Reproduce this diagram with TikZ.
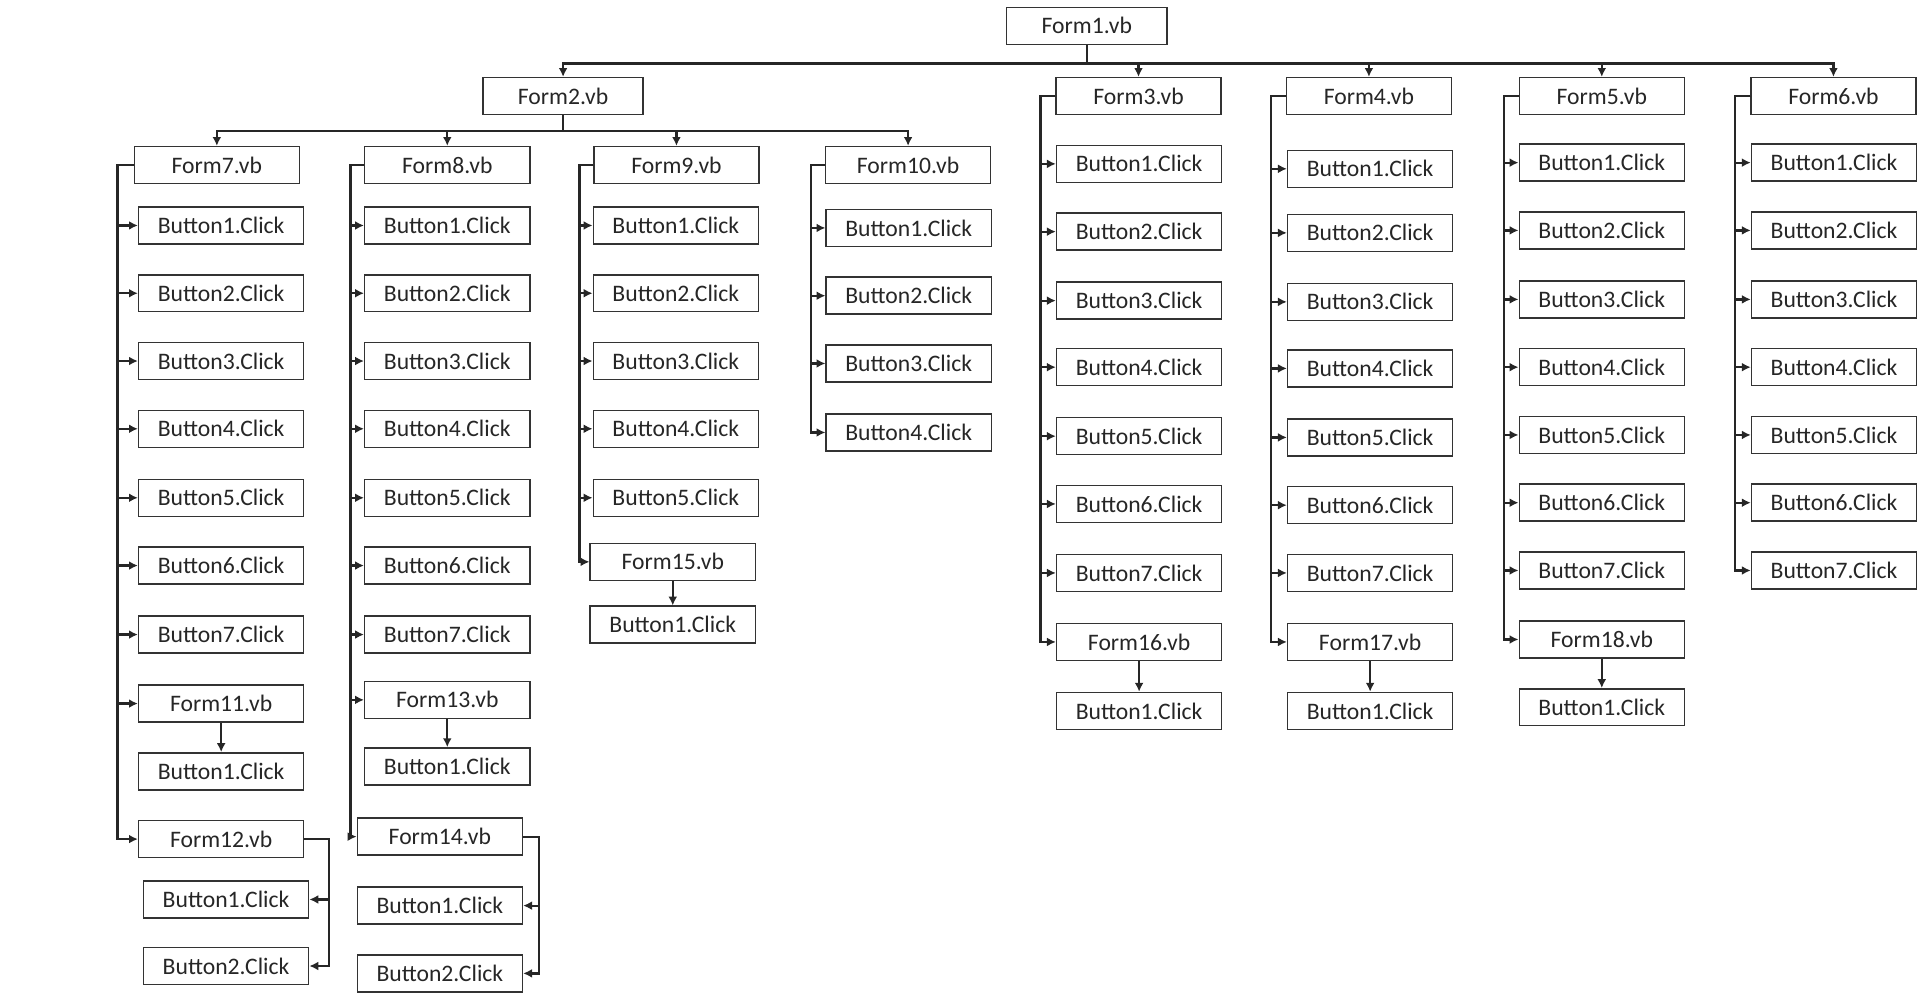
\documentclass[tikz,border=0pt]{standalone}
\usepackage{fontspec}
\setmainfont{Carlito}
\usepackage{tikz}
\usetikzlibrary{positioning,arrows.meta}

\begin{document}
\begin{tikzpicture}[x=0.5pt, y=-0.5pt, >={Latex[length=3.6pt,width=3.6pt]},
    every node/.style={draw=black!80, line width=0.6pt, minimum width=67pt, minimum height=15pt, inner sep=0pt, font=\fontsize{9.6}{11}\selectfont, text=black!85},
    link/.style={->, line width=0.9pt, black!85}]
    \useasboundingbox (0,0) rectangle (1568,812);

    % top levels
    \node[minimum width=65pt] (fone) at (882,21) {Form1.vb};
    \node[minimum width=65pt] (ftwo) at (457,78) {Form2.vb};
    \node (fthr) at (924,78) {Form3.vb};
    \node (ffou) at (1111,78) {Form4.vb};
    \node (ffiv) at (1300,78) {Form5.vb};
    \node (fsix) at (1488,78) {Form6.vb};
    \node (fsev) at (176,134) {Form7.vb};
    \node (feig) at (363,134) {Form8.vb};
    \node (fnin) at (549,134) {Form9.vb};
    \node (ften) at (737,134) {Form10.vb};

    \foreach \f in {ftwo,fthr,ffou,ffiv,fsix}
      \draw[link] (fone.south) -- ++(0,15) -| (\f.north);
    \foreach \f in {fsev,feig,fnin,ften}
      \draw[link] (ftwo.south) -- ++(0,13) -| (\f.north);

    % Form7
    \foreach \y [count=\i] in {183,238,293,348,404,459,515} {
      \node (fsevb\i) at (179.5,\y) {Button\i.Click};
      \draw[link] (fsev.west) -- ++(-13,0) |- (fsevb\i.west);
    }
    \node (felv) at (179.5,571) {Form11.vb};
    \node (felvb) at (179.5,626) {Button1.Click};
    \node (ftwl) at (179.5,681) {Form12.vb};
    \node (ftwlb1) at (183.5,730) {Button1.Click};
    \node (ftwlb2) at (183.5,784) {Button2.Click};
    \draw[link] (fsev.west) -- ++(-13,0) |- (felv.west);
    \draw[link] (fsev.west) -- ++(-13,0) |- (ftwl.west);
    \draw[link] (felv) -- (felvb);
    \draw[link] (ftwl.east) -- ++(20,0) |- (ftwlb1.east);
    \draw[link] (ftwl.east) -- ++(20,0) |- (ftwlb2.east);

    % Form8
    \foreach \y [count=\i] in {183,238,293,348,404,459,515} {
      \node (feigb\i) at (363,\y) {Button\i.Click};
      \draw[link] (feig.west) -- ++(-11,0) |- (feigb\i.west);
    }
    \node (fthi) at (363,568) {Form13.vb};
    \node (fthib) at (363,622) {Button1.Click};
    \node (ffrt) at (357,679) {Form14.vb};
    \node (ffrtb1) at (357,735) {Button1.Click};
    \node (ffrtb2) at (357,790) {Button2.Click};
    \draw[link] (feig.west) -- ++(-11,0) |- (fthi.west);
    \draw[link] (feig.west) -- ++(-11,0) |- (ffrt.west);
    \draw[link] (fthi) -- (fthib);
    \draw[link] (ffrt.east) -- ++(13,0) |- (ffrtb1.east);
    \draw[link] (ffrt.east) -- ++(13,0) |- (ffrtb2.east);

    % Form9
    \foreach \y [count=\i] in {183,238,293,348,404} {
      \node (fninb\i) at (548.5,\y) {Button\i.Click};
      \draw[link] (fnin.west) -- ++(-11,0) |- (fninb\i.west);
    }
    \node (fftn) at (546,456) {Form15.vb};
    \node (fftnb) at (546,507) {Button1.Click};
    \draw[link] (fnin.west) -- ++(-11,0) |- (fftn.west);
    \draw[link] (fftn) -- (fftnb);

    % Form10
    \foreach \y [count=\i] in {185,240,295,351} {
      \node (ftenb\i) at (737.5,\y) {Button\i.Click};
      \draw[link] (ften.west) -- ++(-11,0) |- (ftenb\i.west);
    }

    % Form3
    \foreach \y [count=\i] in {133,188,244,298,354,409,465} {
      \node (fthrb\i) at (924.5,\y) {Button\i.Click};
      \draw[link] (fthr.west) -- ++(-12,0) |- (fthrb\i.west);
    }
    \node (fsxt) at (924.5,521) {Form16.vb};
    \node (fsxtb) at (924.5,577) {Button1.Click};
    \draw[link] (fthr.west) -- ++(-12,0) |- (fsxt.west);
    \draw[link] (fsxt) -- (fsxtb);

    % Form4
    \foreach \y [count=\i] in {137,189,245,299,355,410,465} {
      \node (ffoub\i) at (1112,\y) {Button\i.Click};
      \draw[link] (ffou.west) -- ++(-12,0) |- (ffoub\i.west);
    }
    \node (fsvt) at (1112,521) {Form17.vb};
    \node (fsvtb) at (1112,577) {Button1.Click};
    \draw[link] (ffou.west) -- ++(-12,0) |- (fsvt.west);
    \draw[link] (fsvt) -- (fsvtb);

    % Form5
    \foreach \y [count=\i] in {132,187,243,298,353,408,463} {
      \node (ffivb\i) at (1300,\y) {Button\i.Click};
      \draw[link] (ffiv.west) -- ++(-12,0) |- (ffivb\i.west);
    }
    \node (fegt) at (1300,519) {Form18.vb};
    \node (fegtb) at (1300,574) {Button1.Click};
    \draw[link] (ffiv.west) -- ++(-12,0) |- (fegt.west);
    \draw[link] (fegt) -- (fegtb);

    % Form6
    \foreach \y [count=\i] in {132,187,243,298,353,408,463} {
      \node (fsixb\i) at (1488.5,\y) {Button\i.Click};
      \draw[link] (fsix.west) -- ++(-12,0) |- (fsixb\i.west);
    }
\end{tikzpicture}
\end{document}
